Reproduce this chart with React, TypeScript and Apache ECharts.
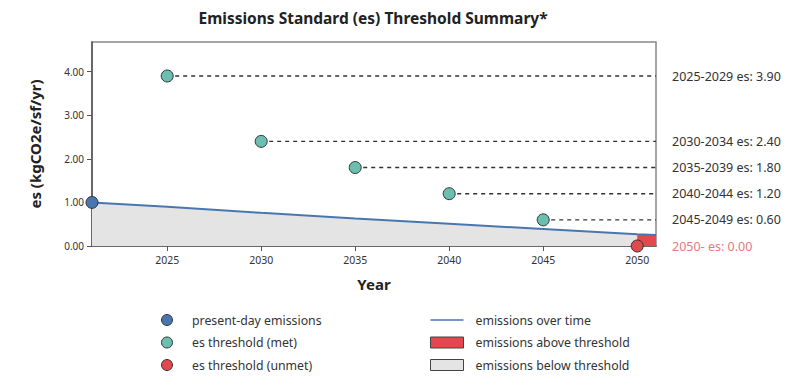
import React, { useEffect, useRef } from "react";
import * as echarts from "echarts";

const X_MIN = 2021;
const X_MAX = 2051;
const X_TICKS = [2025, 2030, 2035, 2040, 2045, 2050];
const Y_TICKS = [0, 1, 2, 3, 4];
const Y_MAX = 4.68;

const EMISSION_YEARS = [2021, 2025, 2030, 2035, 2040, 2045, 2050, 2051];
const EMISSION_VALUES = [1.0, 0.9, 0.76, 0.63, 0.51, 0.39, 0.27, 0.25];

const THRESHOLD_YEARS = [2025, 2030, 2035, 2040, 2045, 2050];
const THRESHOLD_VALUES = [3.9, 2.4, 1.8, 1.2, 0.6, 0.0];
const THRESHOLD_LABELS = [
  "2025-2029 es: 3.90",
  "2030-2034 es: 2.40",
  "2035-2039 es: 1.80",
  "2040-2044 es: 1.20",
  "2045-2049 es: 0.60",
  "2050- es: 0.00",
];
const THRESHOLD_MET = [true, true, true, true, true, false];

const PRESENT_YEAR = 2021;
const PRESENT_VALUE = 1.0;

const BLUE = "#4a76b0";
const TEAL = "#6cbfb0";
const RED = "#e4484f";
const GRAY_FILL = "#e4e4e4";
const FONT = "'Noto Sans', 'Open Sans', sans-serif";

export default function App() {
  const ref = useRef<HTMLDivElement>(null);

  useEffect(() => {
    if (!ref.current) return;
    const chart = echarts.init(ref.current, undefined, { renderer: "svg" });

    const emissions = EMISSION_YEARS.map((y, i) => [y, EMISSION_VALUES[i]]);
    const firstUnmetIdx = THRESHOLD_MET.indexOf(false);
    const unmetYear = THRESHOLD_YEARS[firstUnmetIdx];
    const below = emissions.filter((p) => p[0] <= unmetYear);
    const above = emissions.filter((p) => p[0] >= unmetYear);

    const thresholdLines = THRESHOLD_YEARS.map((yr, i) => ({
      type: "line",
      name: "th" + i,
      data: [
        [yr, THRESHOLD_VALUES[i]],
        [X_MAX, THRESHOLD_VALUES[i]],
      ],
      symbol: "none",
      silent: true,
      z: 3,
      lineStyle: {
        color: "#333",
        width: THRESHOLD_MET[i] ? 1.4 : 0,
        type: [4, 4],
      },
      endLabel: {
        show: true,
        formatter: THRESHOLD_LABELS[i],
        distance: 16,
        color: THRESHOLD_MET[i] ? "#333" : "#e47884",
        fontSize: 12.5,
        fontFamily: FONT,
      },
    }));

    const option: any = {
      animation: false,
      backgroundColor: "#fff",
      textStyle: { fontFamily: FONT },
      title: {
        text: "Emissions Standard (es) Threshold Summary*",
        left: 368,
        textAlign: "center",
        top: 5,
        textStyle: { fontSize: 15.5, fontWeight: "bold", color: "#222", fontFamily: FONT },
      },
      grid: {
        left: 92,
        right: 144,
        top: 42,
        bottom: 139,
        show: true,
        borderColor: "#888",
        borderWidth: 1.5,
        backgroundColor: "transparent",
      },
      xAxis: {
        type: "value",
        min: X_MIN,
        max: X_MAX,
        name: "Year",
        nameLocation: "middle",
        nameGap: 30,
        nameTextStyle: { fontSize: 15, fontWeight: "bold", color: "#222", fontFamily: FONT },
        splitLine: { show: false },
        axisLine: { lineStyle: { color: "#555", width: 1.5 } },
        axisTick: { customValues: X_TICKS, length: 5, lineStyle: { color: "#555" } },
        axisLabel: {
          customValues: X_TICKS,
          color: "#333",
          fontSize: 10.5,
          margin: 8,
          formatter: (v: number) => String(v),
        },
      },
      yAxis: {
        type: "value",
        min: 0,
        max: Y_MAX,
        name: "es (kgCO2e/sf/yr)",
        nameLocation: "middle",
        nameGap: 50,
        nameTextStyle: { fontSize: 15, fontWeight: "bold", color: "#222", fontFamily: FONT },
        splitLine: { show: false },
        axisLine: { show: true, lineStyle: { color: "#555", width: 1.5 } },
        axisTick: { show: true, customValues: Y_TICKS, length: 5, lineStyle: { color: "#555" } },
        axisLabel: {
          customValues: Y_TICKS,
          color: "#333",
          fontSize: 10,
          margin: 8,
          formatter: (v: number) => v.toFixed(2),
        },
      },
      legend: [
        {
          orient: "vertical",
          left: 161,
          top: 314,
          padding: 0,
          itemWidth: 40,
          itemHeight: 11,
          itemGap: 10.5,
          textStyle: { fontSize: 12.3, color: "#333", fontFamily: FONT },
          data: [
            { name: "present-day emissions", icon: "circle", itemStyle: { color: BLUE, borderColor: "#333", borderWidth: 1 } },
            { name: "es threshold (met)", icon: "circle", itemStyle: { color: TEAL, borderColor: "#333", borderWidth: 1 } },
            { name: "es threshold (unmet)", icon: "circle", itemStyle: { color: RED, borderColor: "#333", borderWidth: 1 } },
          ],
        },
        {
          orient: "vertical",
          left: 430,
          top: 314,
          padding: 0,
          itemWidth: 33,
          itemHeight: 11,
          itemGap: 10.5,
          textStyle: { fontSize: 12.3, color: "#333", fontFamily: FONT, padding: [0, 0, 0, 7] },
          data: [
            {
              name: "emissions over time",
              icon: "path://M0,0H33V1.6H0Z",
              itemStyle: { color: BLUE, borderWidth: 0 },
            },
            { name: "emissions above threshold", icon: "rect", itemStyle: { color: RED, borderColor: "#444", borderWidth: 1 } },
            { name: "emissions below threshold", icon: "rect", itemStyle: { color: GRAY_FILL, borderColor: "#444", borderWidth: 1 } },
          ],
        },
      ],
      series: [
        {
          type: "line",
          name: "emissions below threshold",
          data: below,
          symbol: "none",
          silent: true,
          z: 1,
          itemStyle: { color: GRAY_FILL },
          lineStyle: { width: 0 },
          areaStyle: { color: GRAY_FILL, opacity: 1 },
        },
        {
          type: "line",
          name: "emissions above threshold",
          data: above,
          symbol: "none",
          silent: true,
          z: 1,
          itemStyle: { color: RED },
          lineStyle: { width: 0 },
          areaStyle: { color: RED, opacity: 1 },
        },
        {
          type: "line",
          name: "emissions over time",
          data: emissions,
          symbol: "none",
          silent: true,
          z: 2,
          itemStyle: { color: BLUE },
          lineStyle: { color: BLUE, width: 2 },
        },
        ...thresholdLines,
        {
          type: "scatter",
          name: "present-day emissions",
          data: [[PRESENT_YEAR, PRESENT_VALUE]],
          symbolSize: 12,
          clip: false,
          z: 5,
          itemStyle: { color: BLUE, borderColor: "#333", borderWidth: 1, opacity: 1 },
        },
        {
          type: "scatter",
          name: "es threshold (met)",
          data: THRESHOLD_YEARS.map((y, i) => [y, THRESHOLD_VALUES[i]]).filter((_, i) => THRESHOLD_MET[i]),
          symbolSize: 12,
          clip: false,
          z: 5,
          itemStyle: { color: TEAL, borderColor: "#333", borderWidth: 1, opacity: 1 },
        },
        {
          type: "scatter",
          name: "es threshold (unmet)",
          data: THRESHOLD_YEARS.map((y, i) => [y, THRESHOLD_VALUES[i]]).filter((_, i) => !THRESHOLD_MET[i]),
          symbolSize: 12,
          clip: false,
          z: 5,
          itemStyle: { color: RED, borderColor: "#333", borderWidth: 1, opacity: 1 },
        },
      ],
    };
    chart.setOption(option);
    return () => chart.dispose();
  }, []);

  return (
    <div
      ref={ref}
      style={{ position: "absolute", left: 0, top: 0, width: 800, height: 385, background: "#fff" }}
    />
  );
}
